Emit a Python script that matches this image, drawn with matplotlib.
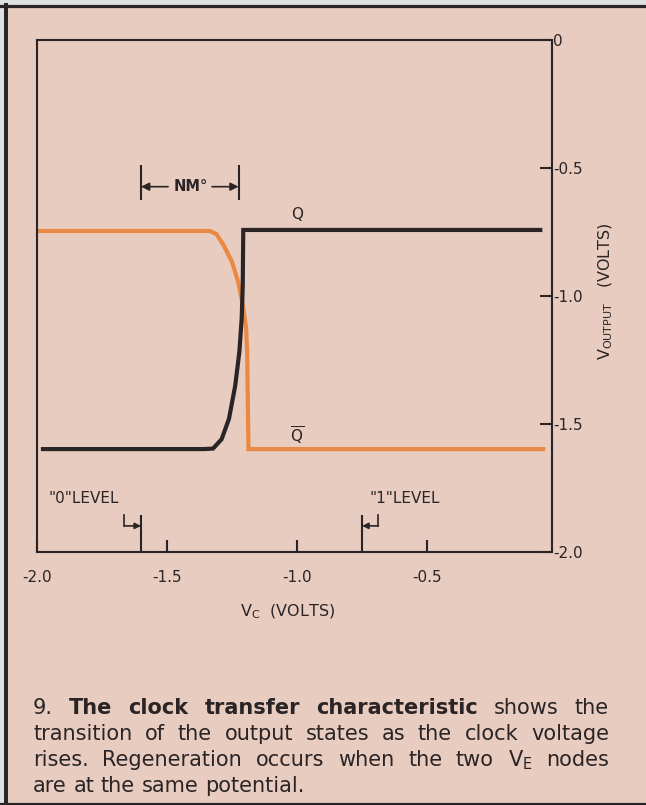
import matplotlib.pyplot as plt
from matplotlib.patches import Rectangle
from matplotlib.lines import Line2D

# clock voltage (x) and output voltage (y)
q_vc = [-1.977, -1.36, -1.323, -1.29, -1.262, -1.238, -1.222, -1.213, -1.209, -1.207, -0.065]
q_vout = [-1.598, -1.598, -1.596, -1.559, -1.48, -1.351, -1.218, -1.088, -0.959, -0.742, -0.742]
qbar_vc = [-1.988, -1.335, -1.31, -1.283, -1.251, -1.227, -1.208, -1.196, -1.192, -1.187, -0.054]
qbar_vout = [-0.746, -0.746, -0.758, -0.801, -0.865, -0.943, -1.037, -1.127, -1.218, -1.598, -1.598]

vc_ticks = [-2.0, -1.5, -1.0, -0.5]
vc_ticklabels = ["-2.0", "-1.5", "-1.0", "-0.5"]
vout_ticks = [0.0, -0.5, -1.0, -1.5, -2.0]
vout_ticklabels = ["0", "-0.5", "-1.0", "-1.5", "-2.0"]

levels = [-1.6, -0.75]
level_labels = ['"0"LEVEL', '"1"LEVEL']
nm_range = [-1.6, -1.225]

caption = [
    [("9.", "normal"), ("The", "bold"), ("clock", "bold"), ("transfer", "bold"),
     ("characteristic", "bold"), ("shows", "normal"), ("the", "normal")],
    [(w, "normal") for w in "transition of the output states as the clock voltage".split()],
    [(w, "normal") for w in ["rises.", "Regeneration", "occurs", "when", "the", "two",
                             r"V$_\mathregular{E}$", "nodes"]],
    [(w, "normal") for w in "are at the same potential.".split()],
]

BG = "#e7ccbf"
DARK = "#2a2426"
ORANGE = "#ea8943"
W, H = 646, 805


def fx(px):
    return px / W


def fy(py):
    return 1 - py / H


fig = plt.figure(figsize=(6.46, 8.05), dpi=100, facecolor=BG)

# page border
fig.add_artist(Rectangle((0, fy(5)), 1, 5 / H, color="#dde1e1", transform=fig.transFigure))
fig.add_artist(Rectangle((0, 0), 4 / W, 1, color="#dde1e1", transform=fig.transFigure))
fig.add_artist(Line2D([0, 1], [fy(6.5)] * 2, lw=2.3, color=DARK, transform=fig.transFigure))
fig.add_artist(Line2D([fx(6)] * 2, [0, fy(5)], lw=2.9, color=DARK, transform=fig.transFigure))
fig.add_artist(Line2D([0, 1], [fy(803.5)] * 2, lw=2.3, color=DARK, transform=fig.transFigure))

ax = fig.add_axes([fx(37), fy(552), fx(552) - fx(37), fy(40) - fy(552)])
ax.set_facecolor(BG)
for s in ax.spines.values():
    s.set_linewidth(1.5)
    s.set_color(DARK)

ax.plot(qbar_vc, qbar_vout, color=ORANGE, lw=3, solid_joinstyle="miter")
ax.plot(q_vc, q_vout, color=DARK, lw=3, solid_joinstyle="miter")

ax.set_xlim(-2.0, -0.02)
ax.set_ylim(-2.0, 0.0)
ax.set_xticks(vc_ticks)
ax.set_xticklabels(vc_ticklabels)
ax.yaxis.tick_right()
ax.set_yticks(vout_ticks)
ax.set_yticklabels(vout_ticklabels)
ax.tick_params(axis="x", direction="in", length=8.5, width=1.5, pad=13, labelsize=11,
               color=DARK, labelcolor=DARK)
ax.tick_params(axis="y", direction="in", length=9, width=1.5, pad=1, labelsize=11,
               color=DARK, labelcolor=DARK)

# logic level markers
ax.vlines(levels, -2.0, -1.855, lw=1.5, color=DARK)
ax.plot([-1.665, -1.665], [-1.855, -1.898], lw=1.2, color=DARK)
ax.annotate("", xy=(levels[0], -1.898), xytext=(-1.665, -1.898),
            arrowprops=dict(arrowstyle="-|>", lw=1.2, color=DARK, mutation_scale=9,
                            shrinkA=0, shrinkB=0))
ax.plot([-0.688, -0.688], [-1.855, -1.898], lw=1.2, color=DARK)
ax.annotate("", xy=(levels[1], -1.898), xytext=(-0.688, -1.898),
            arrowprops=dict(arrowstyle="-|>", lw=1.2, color=DARK, mutation_scale=9,
                            shrinkA=0, shrinkB=0))
ax.text(-1.954, -1.809, level_labels[0], fontsize=11, color=DARK, va="baseline")
ax.text(-0.723, -1.809, level_labels[1], fontsize=11, color=DARK, va="baseline")

# noise margin
ax.vlines(nm_range, -0.625, -0.488, lw=1.5, color=DARK)
ax.annotate("", xy=(nm_range[0], -0.573), xytext=(-1.496, -0.573),
            arrowprops=dict(arrowstyle="-|>", lw=1.2, color=DARK, mutation_scale=12,
                            shrinkA=0, shrinkB=0))
ax.annotate("", xy=(nm_range[1], -0.573), xytext=(-1.327, -0.573),
            arrowprops=dict(arrowstyle="-|>", lw=1.2, color=DARK, mutation_scale=12,
                            shrinkA=0, shrinkB=0))
ax.text(-1.41, -0.573, "NM°", fontsize=10.5, fontweight="bold", color=DARK,
        ha="center", va="center")

ax.text(-1.0, -0.699, "Q", fontsize=11, color=DARK, ha="center", va="baseline")
ax.text(-1.0, -1.574, r"$\overline{\mathregular{Q}}$", fontsize=11, color=DARK,
        ha="center", va="baseline")

fig.text(fx(288), fy(612), r"V$_\mathregular{C}$  (VOLTS)", fontsize=11.5, color=DARK,
         ha="center", va="center")
fig.text(fx(606), fy(291), r"V$_\mathregular{OUTPUT}$   (VOLTS)", fontsize=11.5, color=DARK,
         ha="center", va="center", rotation=90)

# justified caption
renderer = fig.canvas.get_renderer()
baselines = [714, 740, 766, 792]
x0, x1 = 33, 609
for i, (line, py) in enumerate(zip(caption, baselines)):
    texts = [fig.text(0, fy(py), w, fontsize=15, fontweight=wt, color=DARK, va="baseline")
             for w, wt in line]
    widths = [t.get_window_extent(renderer).width for t in texts]
    if i < len(caption) - 1:
        gap = (x1 - x0 - sum(widths)) / (len(texts) - 1)
    else:
        gap = 0.318 * 15 * 100 / 72
    x = x0
    for t, wd in zip(texts, widths):
        t.set_x(fx(x))
        x += wd + gap

fig.savefig("out.png", dpi=100, facecolor=BG)
